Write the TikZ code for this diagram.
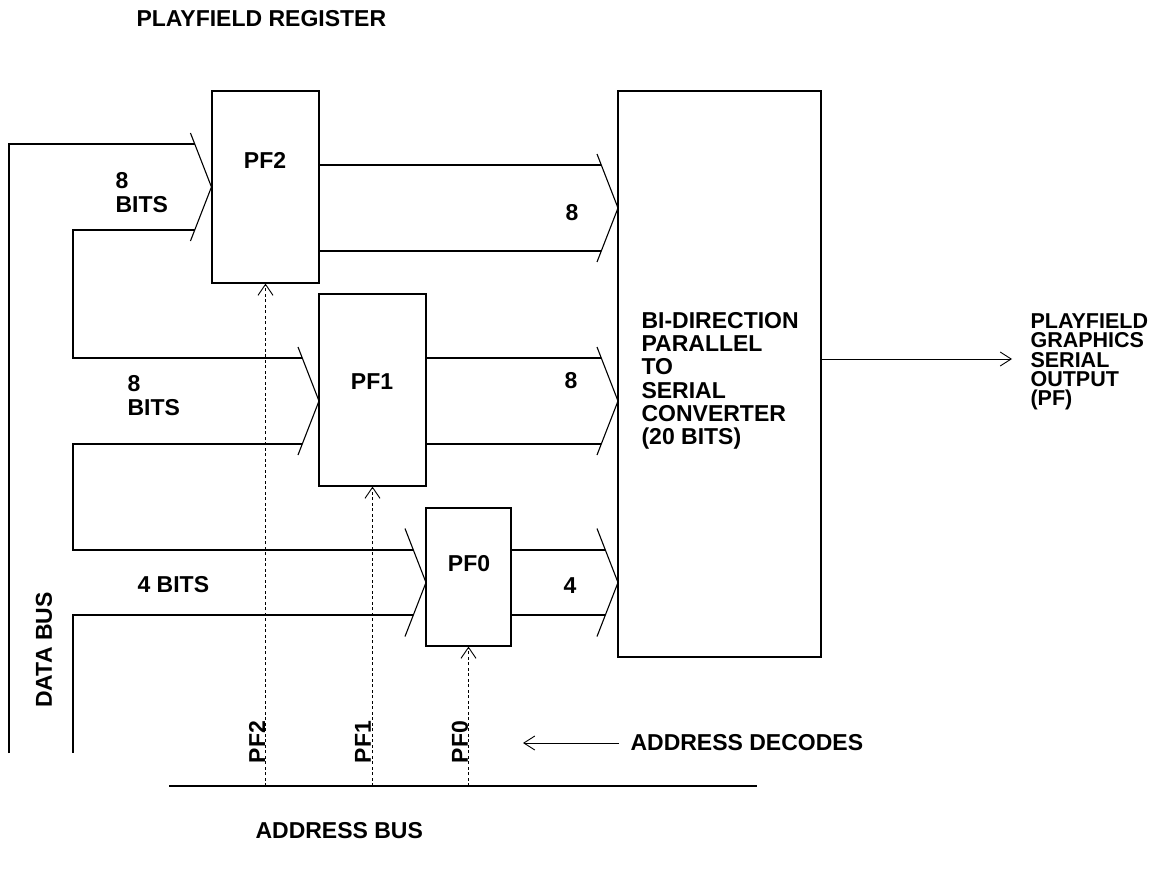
\documentclass[tikz,border=0pt]{standalone}
\usepackage{fontspec}
\setmainfont{Liberation Sans}
\usetikzlibrary{positioning,calc,arrows.meta}

\newcommand{\chevron}[2]{%
	\draw ($(#1)+(-21,-54)$) -- (#1) -- ($(#1)+(-21,54)$);
	\coordinate (#1t) at ($(#1)+({-21*#2/54},-#2)$);
	\coordinate (#1b) at ($(#1)+({-21*#2/54},#2)$);}

\begin{document}
\begin{tikzpicture}[
		x=1pt, y=-1pt,
		line width=1.1pt,
		font=\fontsize{23}{23.5}\selectfont\bfseries,
		regbox/.style={draw, minimum width=107pt, minimum height=192pt, inner sep=0pt},
		txt/.style={inner sep=0pt},
		sel/.style={dash pattern=on 3pt off 2.5pt, line width=0.9pt, -{Straight Barb[length=11pt,width=15pt]}},
		arr/.style={line width=0.9pt, -{Straight Barb[length=11pt,width=14pt]}}
	]
	\useasboundingbox (0,0) rectangle (1170,880);
	\node[txt, anchor=west] (title) at (136,18.5) {PLAYFIELD REGISTER};
	\node[regbox] (pf2) at (265.5,187) {};
	\node[regbox] (pf1) at (372.5,390) {};
	\node[regbox, minimum width=85pt, minimum height=138pt] (pf0) at (468.5,577) {};
	\node[regbox, minimum width=203pt, minimum height=566pt] (conv) at (719.5,374) {};
	\node[txt] (pf2name) at (265,160) {PF2};
	\node[txt] (pf1name) at (372,382) {PF1};
	\node[txt] (pf0name) at (469,564) {PF0};
	\node[txt, anchor=north west, align=left, font=\fontsize{23}{23.3}\selectfont\bfseries] (convname) at (641,311.5) {BI-DIRECTION\\PARALLEL\\TO\\SERIAL\\CONVERTER\\(20 BITS)};
	\node[txt, anchor=north west, align=left, font=\fontsize{21.5}{19.2}\selectfont\bfseries] (pfout) at (1030,313.3) {PLAYFIELD\\GRAPHICS\\SERIAL\\OUTPUT\\(PF)};
	\coordinate (pf2in) at (pf2.west);
	\coordinate (pf1in) at (319,401);
	\coordinate (pf0in) at (426,582.5);
	\coordinate (pf2out) at (618,208);
	\coordinate (pf1out) at (618,401);
	\coordinate (pf0out) at (618,582.5);
	\chevron{pf2in}{43}
	\chevron{pf1in}{43}
	\chevron{pf0in}{32.5}
	\chevron{pf2out}{43}
	\chevron{pf1out}{43}
	\chevron{pf0out}{32.5}
	\coordinate (dbo) at (9,753);
	\coordinate (dbi) at (73,753);
	\draw (dbo) |- (pf2int);
	\draw (pf2inb) -| (dbi |- pf1int) -- (pf1int);
	\draw (pf1inb) -| (dbi |- pf0int) -- (pf0int);
	\draw (pf0inb) -| (dbi);
	\draw (pf2.east |- pf2outt) -- (pf2outt);
	\draw (pf2.east |- pf2outb) -- (pf2outb);
	\draw (pf1.east |- pf1outt) -- (pf1outt);
	\draw (pf1.east |- pf1outb) -- (pf1outb);
	\draw (pf0.east |- pf0outt) -- (pf0outt);
	\draw (pf0.east |- pf0outb) -- (pf0outb);
	\node[txt, anchor=north west, align=left] (bits2) at (115,172) {8\\BITS};
	\node[txt, anchor=north west, align=left] (bits1) at (127,375) {8\\BITS};
	\node[txt, anchor=west] (bits0) at (137,585) {4 BITS};
	\node[txt] (out2) at (572,213) {8};
	\node[txt] (out1) at (571,381) {8};
	\node[txt] (out0) at (570,586) {4};
	\coordinate (outtip) at (1012,359);
	\draw[arr] (conv.east |- outtip) -- (outtip);
	\node[txt, rotate=90] (dbus) at (44,650) {DATA BUS};
	\coordinate (abl) at (169,786);
	\coordinate (abr) at (757,786);
	\draw (abl) -- (abr);
	\foreach \r in {2,1,0}
		\draw[sel] (pf\r.south |- abl) -- (pf\r.south);
	\node[txt, rotate=90] (sel2) at (257,742) {PF2};
	\node[txt, rotate=90] (sel1) at (363,742) {PF1};
	\node[txt, rotate=90] (sel0) at (460,742) {PF0};
	\node[txt, anchor=west] (adec) at (630,743) {ADDRESS DECODES};
	\coordinate (adectip) at (523,743);
	\draw[arr] ([xshift=-11pt]adec.west) -- (adectip);
	\node[txt, anchor=west] (abus) at (255,831) {ADDRESS BUS};
\end{tikzpicture}
\end{document}
